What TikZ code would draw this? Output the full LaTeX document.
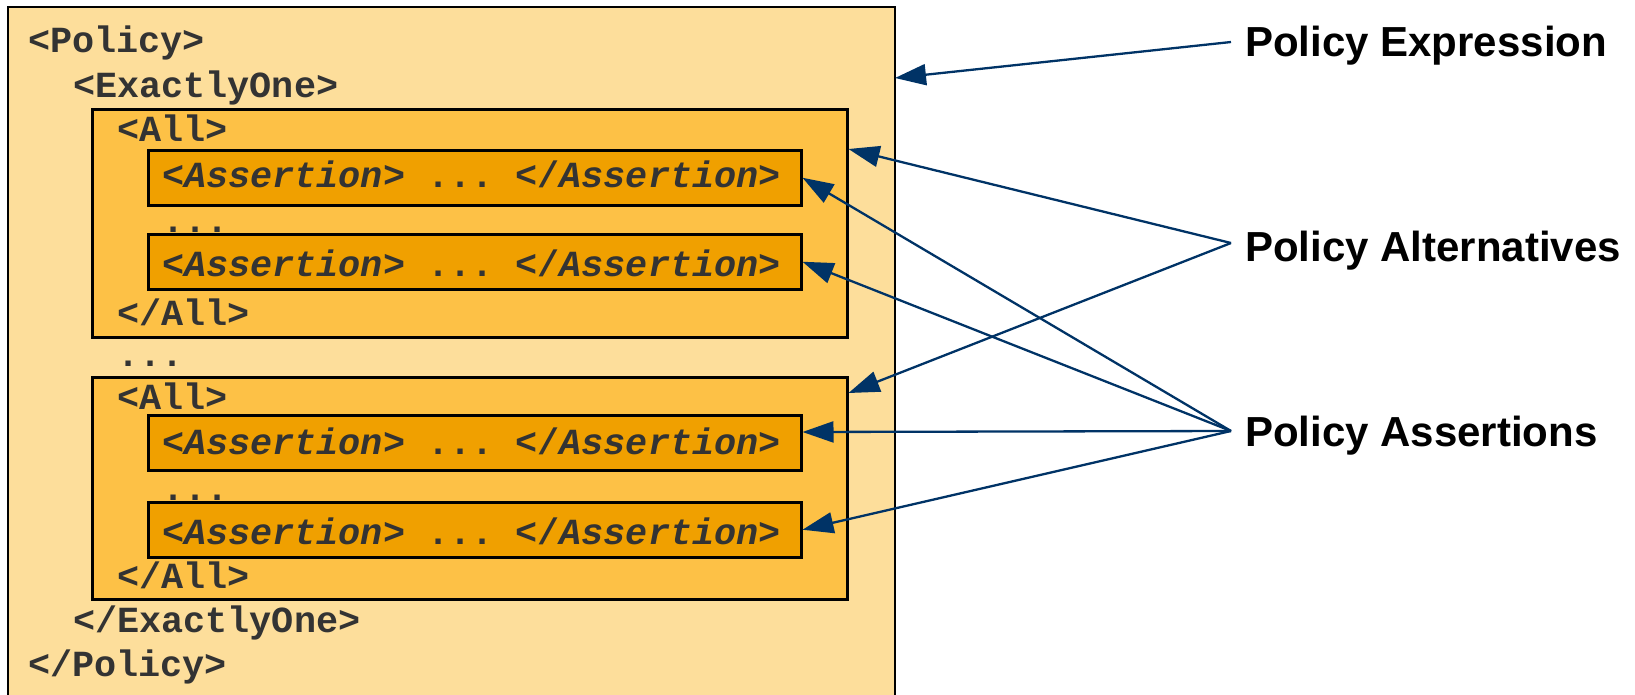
\documentclass[tikz,border=0pt]{standalone}
\usepackage{fontspec}
\setmonofont{Liberation Mono}
\newfontfamily\labfont{Liberation Sans}
\usetikzlibrary{arrows.meta}
\definecolor{outerfill}{RGB}{253,222,155}
\definecolor{allfill}{RGB}{253,193,70}
\definecolor{assfill}{RGB}{240,160,0}
\definecolor{codegray}{RGB}{51,51,51}
\definecolor{arrowblue}{RGB}{0,51,102}
\begin{document}
\begin{tikzpicture}[x=1pt,y=-1pt,
 box/.style={draw=black, line width=2.5pt, anchor=north west, inner sep=0pt},
 allbox/.style={box, fill=allfill, minimum width=755pt},
 assbox/.style={box, fill=assfill, minimum width=653pt, minimum height=55pt},
 code/.style={anchor=base west, inner sep=0pt, text=codegray, font=\ttfamily\bfseries\fontsize{36.8}{40}\selectfont},
 lab/.style={anchor=base west, inner sep=0pt, font=\labfont\bfseries\fontsize{42}{48}\selectfont},
 arr/.style={draw=arrowblue, line width=2.3pt, -{Triangle[length=31pt,width=21pt]}, arrowblue}]
\useasboundingbox (0,0) rectangle (1635,694);
\node[anchor=north west, fill=outerfill, minimum width=887pt, minimum height=700pt, inner sep=0pt, outer sep=0pt] (outer) at (8,7) {};
\draw[line width=2.5pt] (outer.south west) -- (outer.north west) -- (outer.north east) -- (outer.south east);

\node[allbox, minimum height=228pt] (all1) at (91,108) {};
\node[allbox, minimum height=222pt] (all2) at (91,376) {};
\node[assbox] (a1) at (147,149) {};
\node[assbox] (a2) at (147,233) {};
\node[assbox] (a3) at (147,414) {};
\node[assbox] (a4) at (147,501) {};

\newcommand{\assline}{<\textit{Assertion}> ... </\textit{Assertion}>}
\node[code] (t1) at (28,52) {<Policy>};
\node[code] (t2) at (73,97) {<ExactlyOne>};
\node[code] (t3) at (117,141) {<All>};
\node[code] (t4) at (162,187) {\assline};
\node[code] (t5) at (162,232) {...};
\node[code] (t6) at (162,276) {\assline};
\node[code] (t7) at (117,325) {</All>};
\node[code] (t8) at (117,366) {...};
\node[code] (t9) at (117,409) {<All>};
\node[code] (t10) at (162,454) {\assline};
\node[code] (t11) at (162,500) {...};
\node[code] (t12) at (162,544) {\assline};
\node[code] (t13) at (117,588) {</All>};
\node[code] (t14) at (73,632) {</ExactlyOne>};
\node[code] (t15) at (28,676) {</Policy>};

\node[lab] (lexp) at (1245,56) {Policy Expression};
\node[lab] (lalt) at (1245,261) {Policy Alternatives};
\node[lab] (lass) at (1245,446) {Policy Assertions};

\coordinate (pe) at (1231,42);
\coordinate (pal) at (1231,243);
\coordinate (pas) at (1231,431);

\draw[arr] (pe) -- (outer.east |- 0,78);
\draw[arr] (pal) -- (all1.east |- 0,149);
\draw[arr] (pal) -- (all2.east |- 0,393);
\draw[arr] (pas) -- (a1.east);
\draw[arr] (pas) -- (a2.east);
\draw[arr] (pas) -- (a3.east |- 0,432);
\draw[arr] (pas) -- (a4.east);
\end{tikzpicture}
\end{document}
